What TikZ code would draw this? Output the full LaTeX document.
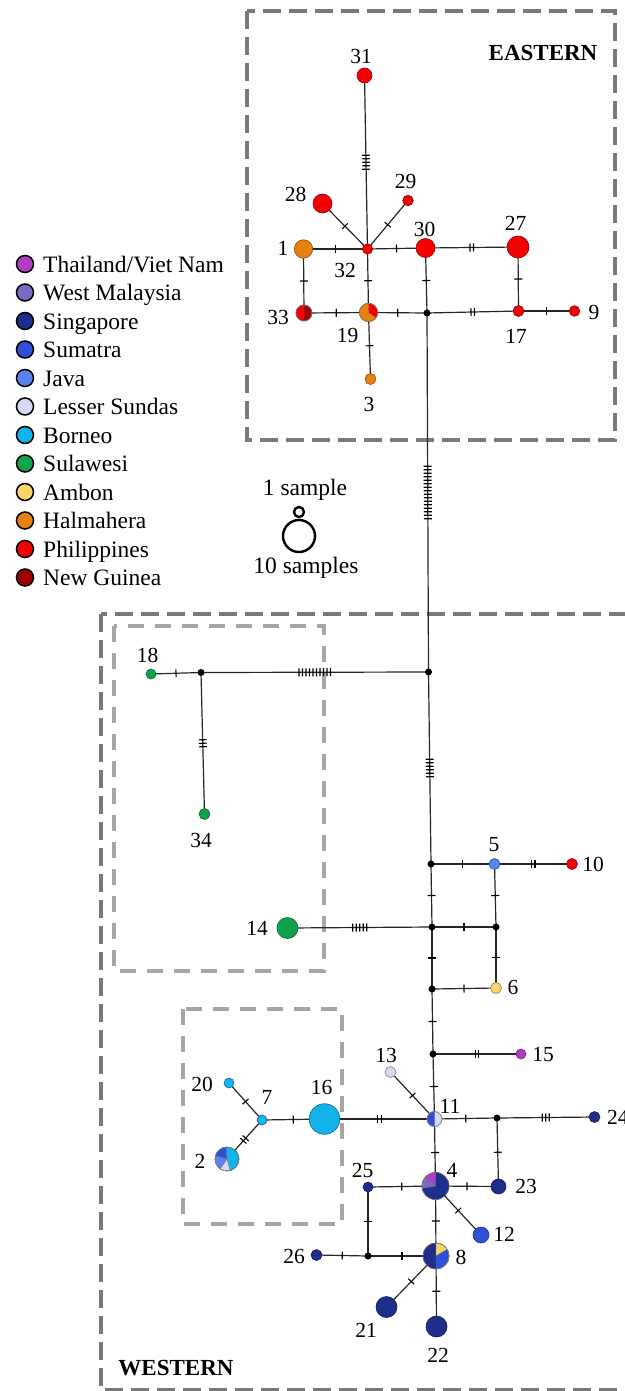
\documentclass[tikz,border=0pt]{standalone}
\usepackage{fontspec}
\setmainfont{Liberation Serif}
\usetikzlibrary{decorations.markings,backgrounds}

\definecolor{thai}{HTML}{B43CC8}
\definecolor{wmal}{HTML}{7B6AC4}
\definecolor{sing}{HTML}{1E2E8C}
\definecolor{suma}{HTML}{2F4FD6}
\definecolor{java}{HTML}{5B82F2}
\definecolor{lsun}{HTML}{D6DAF2}
\definecolor{born}{HTML}{12B2EA}
\definecolor{sula}{HTML}{0FA34E}
\definecolor{ambo}{HTML}{F9D468}
\definecolor{halm}{HTML}{E8820F}
\definecolor{phil}{HTML}{F50000}
\definecolor{ngui}{HTML}{A00000}

% one pie sector of a haplotype circle
\newcommand\pieslice[5]{\fill[#5, draw=black!55, line width=0.4pt] (#1.center) -- ++(#3:#2pt) arc[start angle=#3, end angle=#4, radius=#2pt] -- cycle;}
% connector with a number of mutation ticks at its middle
\newcommand\mut[3]{\draw[edge, tk=#3] (#1.center) -- (#2.center);}

\begin{document}
\begin{tikzpicture}[x=1pt, y=-1pt,
  hap/.style={circle, inner sep=0pt, outer sep=0pt, fill=#1, draw=#1!60!black, line width=0.6pt},
  rad/.style={minimum size={2*#1*1pt}},
  jn/.style={circle, inner sep=0pt, outer sep=0pt, fill=black, minimum size=7pt},
  lbl/.style={inner sep=0pt, font=\fontsize{21.5}{24}\selectfont},
  edge/.style={line width=1.2pt, draw=black!85},
  tk/.style={postaction={decorate, decoration={markings, mark=at position 0.5 with {\foreach \k in {1,...,#1}{\draw[line width=1.1pt, black] ({(\k-(#1+1)/2)*3.5pt},-4pt) -- ({(\k-(#1+1)/2)*3.5pt},4pt);}}}}},
  outerbox/.style={draw=black!52, line width=3.8pt, dash pattern=on 18pt off 8pt},
  innerbox/.style={draw=black!35, line width=3.4pt, dash pattern=on 16pt off 11pt},
  leg/.style={inner sep=0pt, anchor=base west, font=\fontsize{23.5}{26}\selectfont},
  legdot/.style={circle, inner sep=0pt, minimum size=17pt, fill=#1, draw=black, line width=1.5pt},
  region/.style={inner sep=0pt, font=\fontsize{23}{26}\selectfont\bfseries}]

\useasboundingbox (0,0) rectangle (624,1391);

% group frames
\begin{scope}[on background layer]
  \draw[outerbox] (247,11) rectangle (615,440);
  \draw[outerbox] (101,614) rectangle (680,1390);
  \draw[innerbox] (114,626) rectangle (324,971);
  \draw[innerbox] (183,1009) rectangle (342,1224);
\end{scope}

\node[region] (east) at (543,53) {EASTERN};
\node[region] (west) at (176,1368) {WESTERN};

% legend of regions
\foreach \c/\t [count=\i from 0] in {thai/Thailand\slash Viet Nam, wmal/West Malaysia, sing/Singapore, suma/Sumatra, java/Java, lsun/Lesser Sundas, born/Borneo, sula/Sulawesi, ambo/Ambon, halm/Halmahera, phil/Philippines, ngui/New Guinea}{
  \node[legdot=\c] (ld\i) at (25,{264+28.5*\i}) {};
  \node[leg] (lt\i) at (43,{272+28.5*\i}) {\t};
}

% legend of circle sizes
\node[leg, anchor=base] (s1) at (305,495) {1 sample};
\node[circle, draw=black, line width=2.4pt, fill=white, inner sep=0pt, minimum size=32pt] (big) at (299,536) {};
\node[circle, draw=black, line width=2.4pt, fill=white, inner sep=0pt, minimum size=10pt] (small) at (299,512) {};
\node[leg, anchor=base] (s10) at (306,573) {10 samples};

% ---- eastern haplotypes ----
\node[hap=phil, rad=7.5] (h31) at (364.5,75.5) {};
\node[hap=phil, rad=9.5] (h28) at (322.5,203.5) {};
\node[hap=phil, rad=5.3] (h29) at (408,200.5) {};
\node[hap=phil, rad=5.2] (h32) at (367.5,249) {};
\node[hap=halm, rad=9.2] (h1) at (303.5,249) {};
\node[hap=phil, rad=9.5] (h30) at (425.5,248) {};
\node[hap=phil, rad=11] (h27) at (518,247) {};
\node[hap=phil, rad=8] (h33) at (304,313) {};
\node[hap=halm, rad=9.2] (h19) at (368.5,312.5) {};
\node[hap=phil, rad=5.5] (h17) at (518.5,311) {};
\node[hap=phil, rad=5.3] (h9) at (574.5,311) {};
\node[hap=halm, rad=5.5] (h3) at (370.5,379) {};
\node[jn] (j1) at (427,313) {};

\pieslice{h33}{8}{-90}{90}{ngui}
\draw[black!50, line width=0.5pt] (h33.center) circle[radius=8pt];
\pieslice{h19}{9.2}{-35}{90}{phil}
\draw[black!50, line width=0.5pt] (h19.center) circle[radius=9.2pt];

\node[lbl] (l31) at (361,56) {31};
\node[lbl] (l28) at (295.5,194.5) {28};
\node[lbl] (l29) at (405.5,181) {29};
\node[lbl] (l30) at (424.5,229) {30};
\node[lbl] (l27) at (515.5,223) {27};
\node[lbl] (l1) at (283,248.5) {1};
\node[lbl] (l32) at (345,270.5) {32};
\node[lbl] (l33) at (278,317) {33};
\node[lbl] (l19) at (347.5,335.5) {19};
\node[lbl] (l17) at (516,336) {17};
\node[lbl] (l9) at (594,312.5) {9};
\node[lbl] (l3) at (369,404.5) {3};

% ---- western haplotypes ----
\node[jn] (w1) at (428.5,672) {};
\node[jn] (w2) at (201,672.5) {};
\node[jn] (w3) at (431,864) {};
\node[jn] (w4) at (432,927) {};
\node[jn] (w5) at (496,927) {};
\node[jn] (w6) at (432,989) {};
\node[jn] (w7) at (433,1054) {};
\node[jn] (w8) at (497,1118) {};
\node[jn] (w9) at (368,1256) {};

\node[hap=sula, rad=5] (h18) at (151,674) {};
\node[hap=sula, rad=5.5] (h34) at (204.5,814) {};
\node[hap=sula, rad=10.5] (h14) at (287.5,928) {};
\node[hap=java, rad=5.5] (h5) at (494.5,864) {};
\node[hap=phil, rad=5.5] (h10) at (572,864) {};
\node[hap=ambo, rad=5.5] (h6) at (496,988) {};
\node[hap=thai, rad=5] (h15) at (521,1054) {};
\node[hap=lsun, rad=5.5] (h13) at (390.5,1072) {};
\node[hap=lsun, rad=7.5] (h11) at (434.5,1119) {};
\node[hap=sing, rad=5.5] (h24) at (594.5,1117) {};
\node[hap=born, rad=15.3] (h16) at (324.5,1119) {};
\node[hap=born, rad=5] (h7) at (262,1120) {};
\node[hap=born, rad=5] (h20) at (229,1083) {};
\node[hap=born, rad=12] (h2) at (227,1159) {};
\node[hap=sing, rad=13.5] (h4) at (435.5,1186) {};
\node[hap=sing, rad=7.5] (h23) at (498.5,1186.5) {};
\node[hap=sing, rad=5] (h25) at (368,1187) {};
\node[hap=suma, rad=8] (h12) at (481,1235) {};
\node[hap=sing, rad=13] (h8) at (436,1256) {};
\node[hap=sing, rad=5.5] (h26) at (316.5,1255) {};
\node[hap=sing, rad=10.5] (h21) at (386.5,1307) {};
\node[hap=sing, rad=10.5] (h22) at (436.5,1326.5) {};

\pieslice{h11}{7.5}{90}{270}{suma}
\draw[black!50, line width=0.5pt] (h11.center) circle[radius=7.5pt];
\pieslice{h4}{13.5}{90}{140}{thai}
\pieslice{h4}{13.5}{140}{190}{wmal}
\draw[black!50, line width=0.5pt] (h4.center) circle[radius=13.5pt];
\pieslice{h8}{13}{30}{90}{ambo}
\pieslice{h8}{13}{-90}{30}{suma}
\draw[black!50, line width=0.5pt] (h8.center) circle[radius=13pt];
\pieslice{h2}{12}{95}{165}{suma}
\pieslice{h2}{12}{165}{235}{java}
\pieslice{h2}{12}{235}{285}{lsun}
\draw[black!50, line width=0.5pt] (h2.center) circle[radius=12pt];

\node[lbl] (l18) at (147.5,655) {18};
\node[lbl] (l34) at (201,840) {34};
\node[lbl] (l14) at (257,928.5) {14};
\node[lbl] (l5) at (494,845) {5};
\node[lbl] (l10) at (593,864) {10};
\node[lbl] (l6) at (513,987) {6};
\node[lbl] (l15) at (543,1054) {15};
\node[lbl] (l13) at (386,1055) {13};
\node[lbl] (l11) at (450,1106) {11};
\node[lbl, anchor=west] (l24) at (607,1117) {24};
\node[lbl] (l16) at (321.5,1087.5) {16};
\node[lbl] (l7) at (267,1097.5) {7};
\node[lbl] (l20) at (202,1084) {20};
\node[lbl] (l2) at (200,1161) {2};
\node[lbl] (l4) at (452,1170) {4};
\node[lbl] (l23) at (526,1186) {23};
\node[lbl] (l25) at (362.5,1170) {25};
\node[lbl] (l12) at (504,1234) {12};
\node[lbl] (l8) at (461,1257.5) {8};
\node[lbl] (l26) at (294,1256) {26};
\node[lbl] (l21) at (366,1330.5) {21};
\node[lbl] (l22) at (438,1355) {22};

% ---- connectors with mutation steps ----
\begin{scope}[on background layer]
  \mut{h31}{h32}{5}
  \mut{h28}{h32}{1}
  \mut{h29}{h32}{1}
  \mut{h1}{h32}{1}
  \mut{h32}{h30}{1}
  \mut{h30}{h27}{2}
  \mut{h1}{h33}{1}
  \mut{h32}{h19}{1}
  \mut{h33}{h19}{1}
  \mut{h19}{j1}{1}
  \mut{h30}{j1}{1}
  \mut{j1}{h17}{2}
  \mut{h27}{h17}{1}
  \mut{h17}{h9}{1}
  \mut{h19}{h3}{1}
  \mut{j1}{w1}{16}

  \mut{w2}{w1}{10}
  \mut{h18}{w2}{1}
  \mut{w2}{h34}{3}
  \mut{w1}{w3}{6}
  \mut{w3}{h5}{1}
  \mut{h5}{h10}{2}
  \mut{w3}{w4}{1}
  \mut{h5}{w5}{1}
  \mut{w4}{w5}{1}
  \mut{h14}{w4}{5}
  \mut{w4}{w6}{1}
  \mut{w5}{h6}{1}
  \mut{w6}{h6}{1}
  \mut{w6}{w7}{1}
  \mut{w7}{h15}{2}
  \mut{w7}{h11}{1}
  \mut{h13}{h11}{1}
  \mut{h16}{h11}{2}
  \mut{h11}{w8}{1}
  \mut{w8}{h24}{3}
  \mut{w8}{h23}{1}
  \mut{h11}{h4}{1}
  \mut{h4}{h23}{1}
  \mut{h25}{h4}{1}
  \mut{h4}{h12}{1}
  \mut{h4}{h8}{1}
  \mut{h25}{w9}{1}
  \mut{w9}{h8}{1}
  \mut{h26}{w9}{1}
  \mut{h8}{h21}{1}
  \mut{h8}{h22}{1}
  \mut{h16}{h7}{1}
  \mut{h7}{h20}{1}
  \mut{h7}{h2}{2}
\end{scope}

\end{tikzpicture}
\end{document}
